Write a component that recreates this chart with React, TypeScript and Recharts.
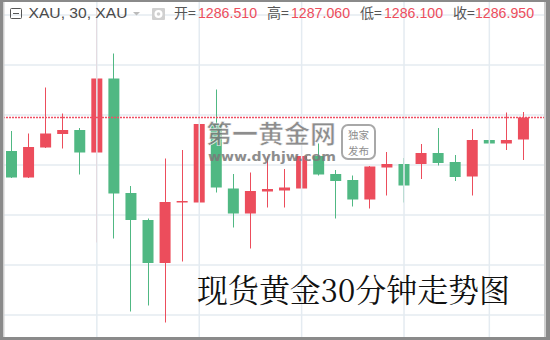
import React from "react";
import { ComposedChart, Bar, XAxis, YAxis, CartesianGrid, ReferenceLine } from "recharts";

const categories = ["1","2","3","4","5","6","7","8","9","10","11","12","13","14","15","16","17","18","19","20","21","22","23","24","25","26","27","28","29","30","31"];
const opens = [1286.28,1285.75,1286.35,1286.62,1286.70,1286.25,1287.73,1285.44,1284.90,1284.04,1285.25,1285.25,1286.82,1285.53,1285.03,1285.47,1285.49,1285.53,1286.18,1285.82,1285.70,1285.31,1285.95,1286.02,1286.02,1286.24,1286.06,1285.77,1286.50,1286.43,1286.51];
const highs = [1286.68,1286.63,1287.55,1287.03,1286.74,1289.16,1288.23,1285.58,1284.93,1286.13,1286.30,1288.50,1287.51,1285.82,1285.85,1286.17,1285.92,1286.37,1286.43,1285.90,1285.79,1285.98,1286.26,1286.14,1286.42,1286.74,1286.20,1286.72,1286.51,1287.05,1287.06];
const lows = [1285.74,1285.74,1286.34,1286.33,1285.81,1284.45,1284.53,1283.07,1283.19,1282.85,1284.07,1285.24,1285.45,1284.75,1284.33,1285.15,1285.15,1285.32,1285.79,1284.93,1285.17,1285.13,1285.39,1285.25,1285.72,1285.99,1285.68,1285.39,1285.27,1286.30,1286.10];
const closes = [1285.75,1286.36,1286.63,1286.70,1286.25,1287.73,1285.43,1284.90,1284.04,1285.26,1285.28,1286.82,1285.55,1285.03,1285.48,1285.52,1285.55,1286.18,1285.81,1285.68,1285.31,1285.97,1286.02,1285.59,1286.24,1286.04,1285.76,1286.50,1286.43,1286.50,1286.95];
const priceTicks = [1283, 1284, 1285, 1286, 1287, 1288, 1289];
const timeGridCategories = ["6", "12", "18", "24", "29"];
const lastClose = 1286.95;
const headerValues = ["1286.510", "1287.060", "1286.100", "1286.950"];
const headerLabels = ["开=", "高=", "低=", "收="];

const RED = "#ec4d5c";
const GREEN = "#50b883";
const GRID = "#e4ebf1";

const data = categories.map((t, i) => ({
  t,
  open: opens[i],
  high: highs[i],
  low: lows[i],
  close: closes[i],
  range: [lows[i], highs[i]],
}));

function Candle(props: any) {
  const { x, y, width, height, payload } = props;
  if (!payload || x == null) return null;
  const { open, high, low, close } = payload;
  const top = height < 0 ? y + height : y;
  const hh = Math.abs(height);
  const k = hh / (high - low);
  const yO = top + (high - open) * k;
  const yC = top + (high - close) * k;
  const color = close >= open ? RED : GREEN;
  const bTop = Math.min(yO, yC);
  const bH = Math.max(Math.abs(yO - yC), 1.5);
  const cx = Math.floor(x + width / 2) + 0.5;
  return (
    <g>
      <line x1={cx} x2={cx} y1={top} y2={top + hh} stroke={color} strokeWidth={1} />
      <rect x={x} y={bTop} width={width} height={bH} fill={color} />
    </g>
  );
}

function PriceLine(p: any) {
  return <line x1={p.x1} y1={p.y1} x2={p.x2} y2={p.y2} stroke="#ef4f63" strokeWidth={1.5} strokeDasharray="2 1" />;
}

const labelX = [174, 267, 360, 453];
const valueX = [198, 291, 384, 475];

export default function App() {
  return (
    <div style={{ position: "fixed", left: 0, top: 0, width: 550, height: 340, background: "#fff", overflow: "hidden" }}>
      <ComposedChart width={550} height={340} data={data} margin={{ top: 0, right: 5, bottom: 0, left: 3 }}>
        <CartesianGrid vertical={false} stroke={GRID} strokeWidth={1.5} />
        <XAxis dataKey="t" hide padding={{ left: 0, right: 13 }} />
        <YAxis hide domain={[1282.5, 1289.3]} ticks={priceTicks} allowDataOverflow type="number" />
        {timeGridCategories.map((c) => (
          <ReferenceLine key={c} x={c} stroke={GRID} strokeWidth={1.5} />
        ))}
        <ReferenceLine y={lastClose} stroke="#ef4f63" strokeDasharray="2 1" shape={PriceLine} />
        <Bar dataKey="range" barSize={11} shape={Candle} isAnimationActive={false} />
      </ComposedChart>
      <svg width={550} height={340} style={{ position: "absolute", left: 0, top: 0, pointerEvents: "none" }}>
        {/* header */}
        <rect x={10.5} y={8.5} width={11} height={10} fill="none" stroke="#555" strokeWidth={1} rx={1} />
        <line x1={13} x2={19} y1={13.5} y2={13.5} stroke="#555" strokeWidth={1} />
        <text x={28.5} y={17.5} fontSize={15} fill="#4a4a4a" fontFamily="Liberation Sans, Arial, sans-serif" textLength={99} lengthAdjust="spacingAndGlyphs">XAU, 30, XAU</text>
        <polygon points="133,12 140,12 136.5,15.5" fill="#bbb" />
        <rect x={152} y={8} width={13} height={12} fill="#d0d0d0" rx={1} />
        <circle cx={158.5} cy={14} r={4} fill="#fff" />
        <circle cx={158.5} cy={14} r={1.8} fill="#d0d0d0" />
        {headerLabels.map((l, i) => (
          <text key={l} x={labelX[i]} y={17.5} fontSize={14} fill="#555" fontFamily="Noto Sans CJK SC, sans-serif">{l}</text>
        ))}
        {headerValues.map((v, i) => (
          <text key={v + i} x={valueX[i]} y={17.5} fontSize={14.5} fill={RED} fontFamily="Liberation Sans, Arial, sans-serif" textLength={59} lengthAdjust="spacingAndGlyphs">{v}</text>
        ))}
        {/* watermark */}
        <g opacity={0.85}>
          <text x={206} y={143} fontSize={25} fontWeight={700} fill="#7a7a7a" stroke="#fff" strokeWidth={0.6} fontFamily="Noto Sans CJK SC, sans-serif" textLength={130} lengthAdjust="spacingAndGlyphs">第一黄金网</text>
          <text x={208} y={160.5} fontSize={12.5} fontWeight={700} fill="#7a7a7a" fontFamily="DejaVu Sans, sans-serif" textLength={128} lengthAdjust="spacingAndGlyphs">www.dyhjw.com</text>
          <rect x={342} y={125} width={33} height={34} rx={6} fill="rgba(255,255,255,0.5)" stroke="#9a9a9a" strokeWidth={2} />
          <text x={358.5} y={139} fontSize={10.5} fill="#7a7a7a" textAnchor="middle" fontFamily="Noto Sans CJK SC, sans-serif">独家</text>
          <text x={358.5} y={155} fontSize={10.5} fill="#7a7a7a" textAnchor="middle" fontFamily="Noto Sans CJK SC, sans-serif">发布</text>
        </g>
        {/* caption */}
        <text x={197} y={302} fontSize={32} fill="#111" fontFamily="Noto Serif CJK SC, serif" textLength={313} lengthAdjust="spacingAndGlyphs">现货黄金30分钟走势图</text>
        {/* frame */}
        <rect x={3} y={2} width={1.5} height={335} fill="#cfcfcf" />
        <rect x={544} y={2} width={2} height={335} fill="#cfcfcf" />
        <rect x={0} y={0} width={3} height={340} fill="#8a8a8a" />
        <rect x={546} y={0} width={4} height={340} fill="#8a8a8a" />
        <rect x={0} y={0} width={550} height={2} fill="#8a8a8a" />
        <rect x={0} y={337} width={550} height={3} fill="#8a8a8a" />
      </svg>
    </div>
  );
}
